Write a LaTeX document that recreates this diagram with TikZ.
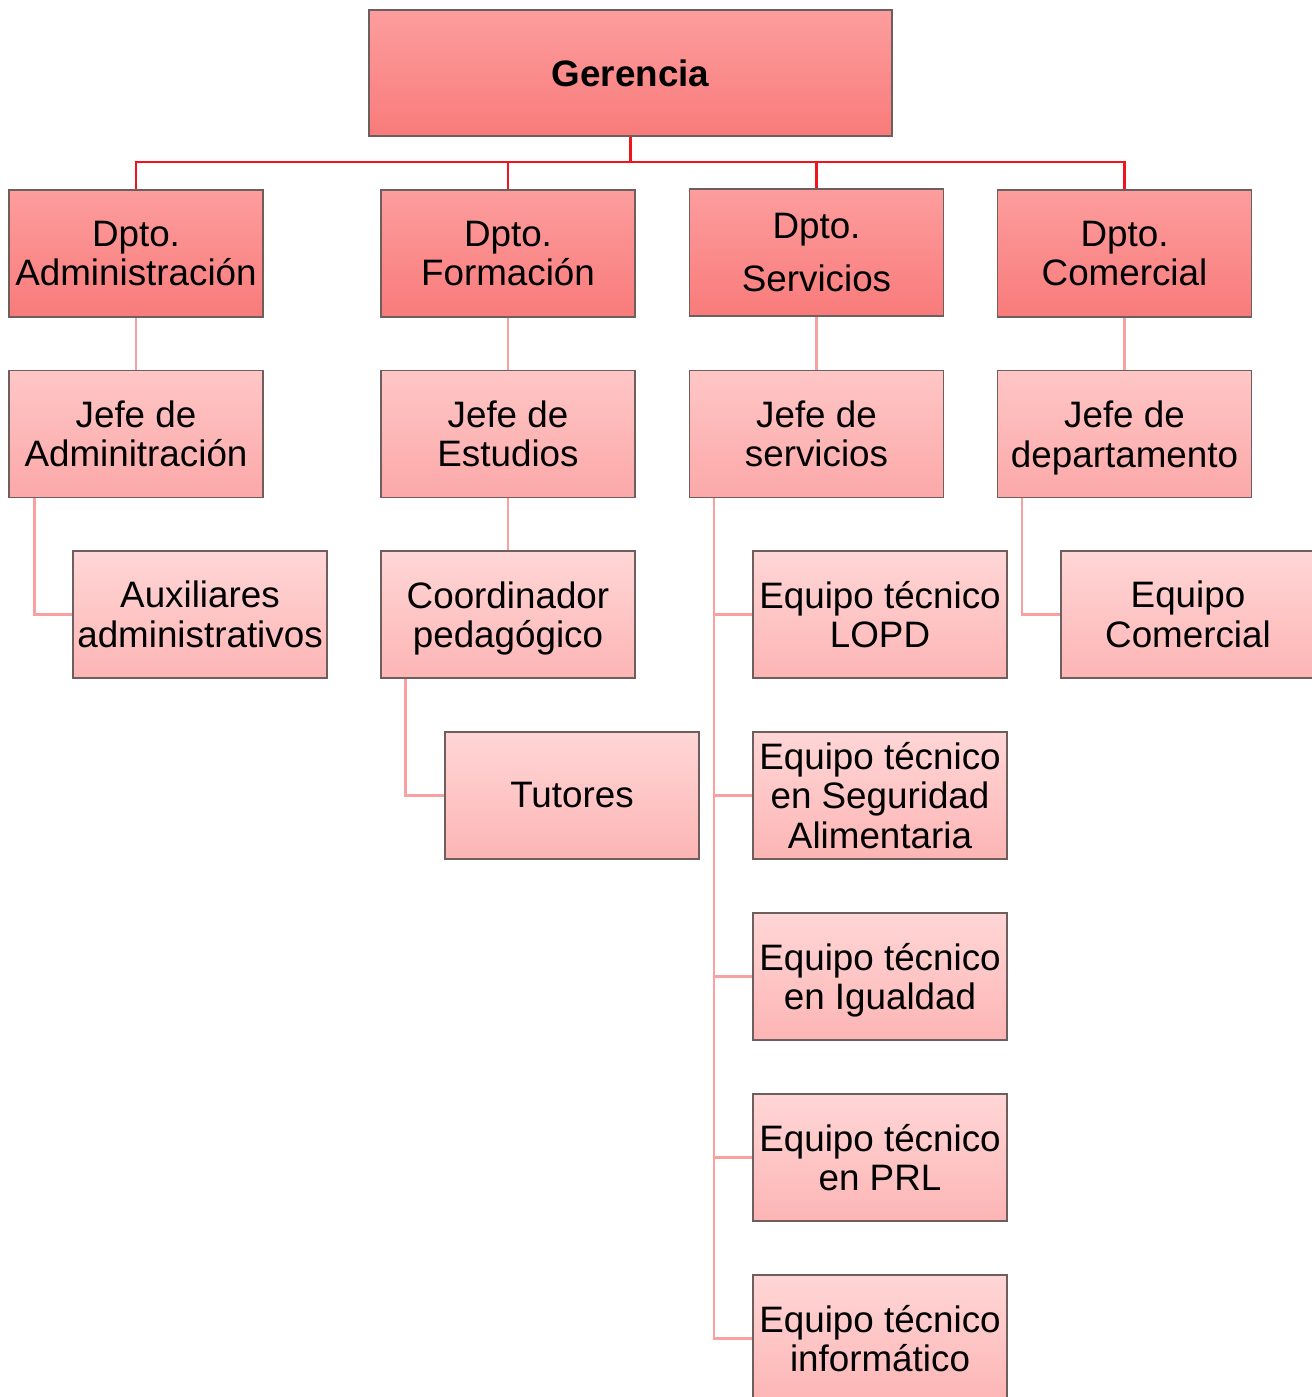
\documentclass[tikz,border=0pt]{standalone}
\usepackage{fontspec}
\setmainfont{Liberation Sans}
\usetikzlibrary{calc}
\definecolor{gtop}{HTML}{FD9D9D}
\definecolor{gbot}{HTML}{F97B7B}
\definecolor{jtop}{HTML}{FFC6C6}
\definecolor{jbot}{HTML}{FCA8A8}
\definecolor{etop}{HTML}{FFD6D6}
\definecolor{ebot}{HTML}{FDB5B5}
\definecolor{bord}{HTML}{6E5E5E}
\definecolor{redln}{HTML}{F0141C}
\definecolor{pinkln}{HTML}{F9A0A0}
\newcommand{\nodepth}[1]{\raisebox{0pt}[\height][0pt]{#1}}
\tikzset{
  boxbase/.style={draw=bord, line width=0.8pt, align=center, inner sep=0pt,
    minimum width=190.5pt, minimum height=95.25pt,
    font=\fontsize{27.6}{29.5}\selectfont},
  lvlA/.style={boxbase, top color=gtop, bottom color=gbot},
  lvlB/.style={boxbase, top color=jtop, bottom color=jbot},
  lvlC/.style={boxbase, top color=etop, bottom color=ebot},
  redline/.style={draw=redln, line width=2.2pt},
  pinkline/.style={draw=pinkln, line width=1.9pt},
}
\begin{document}
\begin{tikzpicture}[x=0.75pt, y=-0.75pt]
\useasboundingbox (0,0) rectangle (1312,1397);
% nodes
\node[lvlA, minimum width=392.25pt, minimum height=94.5pt, font=\fontsize{27.6}{29.5}\selectfont\bfseries] (ger) at (630.5,73) {Gerencia};
\node[lvlA] (d1) at (136,253.5) {Dpto.\\Administración};
\node[lvlA] (d2) at (508,253.5) {Dpto.\\Formación};
\node[lvlA] (d3) at (816.5,252.5) {Dpto.\\[10.5pt]Servicios};
\node[lvlA] (d4) at (1124.5,253.5) {Dpto.\\Comercial};
\node[lvlB] (j1) at (136,434) {Jefe de\\Adminitración};
\node[lvlB] (j2) at (508,434) {Jefe de\\Estudios};
\node[lvlB] (j3) at (816.5,434) {Jefe de\\servicios};
\node[lvlB] (j4) at (1124.5,434) {Jefe de\\\nodepth{departamento}};
\node[lvlC] (aux) at (200,614.5) {Auxiliares\\administrativos};
\node[lvlC] (coo) at (508,614.5) {Coordinador\\\nodepth{pedagógico}};
\node[lvlC] (tut) at (572,795.5) {Tutores};
\node[lvlC] (e1) at (880,614.5) {Equipo técnico\\LOPD};
\node[lvlC] (e2) at (880,795.5) {Equipo técnico\\en Seguridad\\Alimentaria};
\node[lvlC] (e3) at (880,976.5) {Equipo técnico\\\nodepth{en Igualdad}};
\node[lvlC] (e4) at (880,1157.5) {Equipo técnico\\en PRL};
\node[lvlC] (e5) at (880,1338.5) {Equipo técnico\\informático};
\node[lvlC] (ec) at (1188,614.5) {Equipo\\Comercial};
% connectors
\coordinate (bus) at (630.5,162);
\draw[redline] (ger.south) -- (bus);
\draw[redline] (d1.north) -- (d1.north |- bus) -- (d4.north |- bus) -- (d4.north);
\draw[redline] (d2.north) -- (d2.north |- bus);
\draw[redline] (d3.north) -- (d3.north |- bus);
\draw[pinkline] (d1.south) -- (j1.north);
\draw[pinkline] (d2.south) -- (j2.north);
\draw[pinkline] (d3.south) -- (j3.north);
\draw[pinkline] (d4.south) -- (j4.north);
\draw[pinkline] ($(j1.south west)+(26,0)$) |- (aux.west);
\draw[pinkline] (j2.south) -- (coo.north);
\draw[pinkline] ($(coo.south west)+(25,0)$) |- (tut.west);
\draw[pinkline] ($(j4.south west)+(25,0)$) |- (ec.west);
\coordinate (sp) at ($(j3.south west)+(25,0)$);
\draw[pinkline] (sp) |- (e5.west);
\draw[pinkline] (sp |- e1.west) -- (e1.west);
\draw[pinkline] (sp |- e2.west) -- (e2.west);
\draw[pinkline] (sp |- e3.west) -- (e3.west);
\draw[pinkline] (sp |- e4.west) -- (e4.west);
\end{tikzpicture}
\end{document}
